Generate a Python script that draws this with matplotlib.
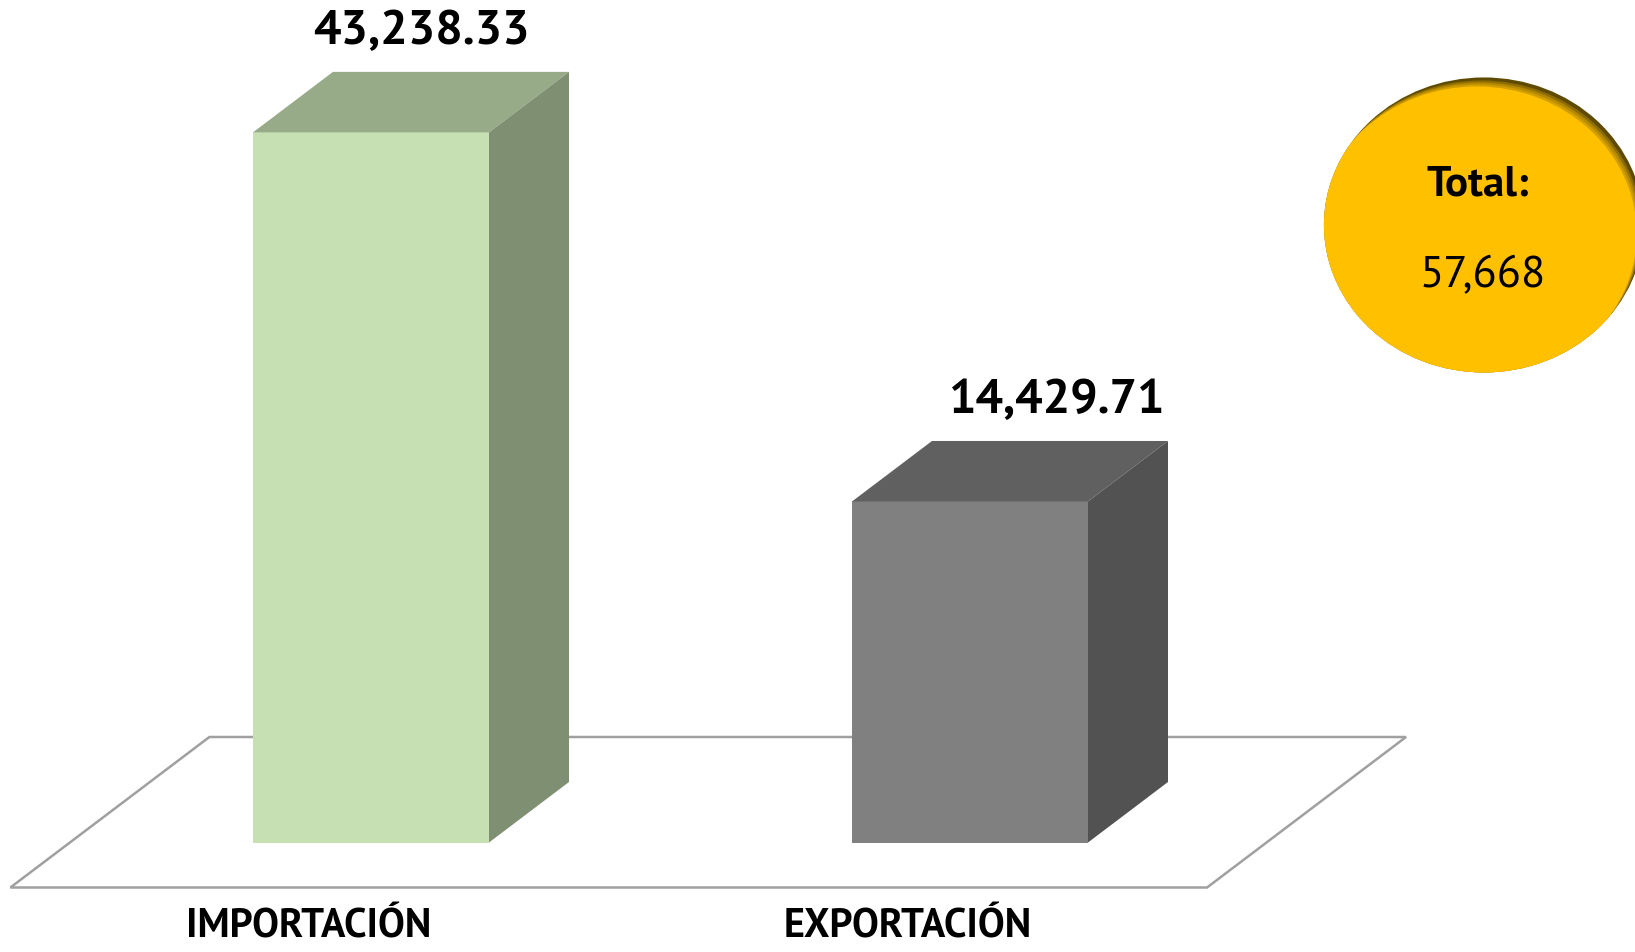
import numpy as np
import matplotlib
matplotlib.use('Agg')
import matplotlib.pyplot as plt
from matplotlib.patches import Polygon, Ellipse

plt.rcParams['font.family'] = ['PT Sans', 'DejaVu Sans']

categorias = ['IMPORTACIÓN', 'EXPORTACIÓN']
valores = [43238.33, 14429.71]
total = sum(valores)

# colores: frente, techo, lado
frente = ['#C6E0B4', '#808080']
techo = ['#97AB89', '#606060']
lado = ['#7F8F72', '#525252']

# escala: 599 px por categoria, 78.05 unidades por px
px_x = 1 / 599
px_y = 78.05
base = -12187
ancho = 236 * px_x
dx = 80 * px_x
dy = 60.5 * px_y

fig = plt.figure(figsize=(16.35, 9.52), dpi=100)
ax = fig.add_axes([0, 0, 1, 1])
ax.set_xlim(-371 * px_x, 1264 * px_x)
ax.set_ylim(base - 109.5 * px_y, base + 842.5 * px_y)
ax.axis('off')

# piso
pad = 45 * px_y
pdx = 59.5 * px_x
x0 = -0.602
x1 = 1.3957
piso = [(x0, base - pad), (x1, base - pad),
        (x1 + dx + 2 * pdx, base + dy + pad), (x0 + dx + 2 * pdx, base + dy + pad)]
ax.add_patch(Polygon(piso, closed=True, fill=False, edgecolor='#A0A0A0', lw=1.8, zorder=1))

off_etq = [50, 87]
for i, v in enumerate(valores):
    xl = i - ancho / 2
    xr = i + ancho / 2
    ax.add_patch(Polygon([(xl, base), (xr, base), (xr, v), (xl, v)],
                         closed=True, facecolor=frente[i], edgecolor='none', zorder=3))
    ax.add_patch(Polygon([(xl, v), (xr, v), (xr + dx, v + dy), (xl + dx, v + dy)],
                         closed=True, facecolor=techo[i], edgecolor='none', zorder=3))
    ax.add_patch(Polygon([(xr, base), (xr + dx, base + dy), (xr + dx, v + dy), (xr, v)],
                         closed=True, facecolor=lado[i], edgecolor='none', zorder=3))
    ax.text(i + off_etq[i] * px_x, v + 100 * px_y, f'{v:,.2f}', ha='center', va='center',
            fontsize=35, fontweight='bold', color='black', zorder=5)
    ax.text(i - 62 * px_x, base - 85 * px_y, categorias[i], ha='center', va='center',
            fontsize=29, fontweight='bold', color='black', zorder=5)

# ovalo del total con sombra interior
cx, cy, w, h = 0.9076, 0.7637, 0.1957, 0.3099
fondo = Ellipse((cx, cy), w, h, transform=ax.transAxes, facecolor='#5E4A00',
                edgecolor='none', zorder=6)
ax.add_patch(fondo)
for k, a in zip([9, 7, 5, 3], [1.0, 0.4, 0.35, 0.3]):
    e = Ellipse((cx - k * 0.8 / 1635, cy - k / 952), w, h, transform=ax.transAxes,
                facecolor='#FFC000', edgecolor='none', alpha=a, zorder=7)
    ax.add_patch(e)
    e.set_clip_path(fondo)
ax.text(0.904, 0.8055, 'Total:', transform=ax.transAxes, ha='center', va='center',
        fontsize=31, fontweight='bold', color='black', zorder=8)
ax.text(0.907, 0.7100, f'{total:,.0f}', transform=ax.transAxes, ha='center', va='center',
        fontsize=32, color='black', zorder=8)

fig.savefig('out.png', dpi=100, facecolor='white')
